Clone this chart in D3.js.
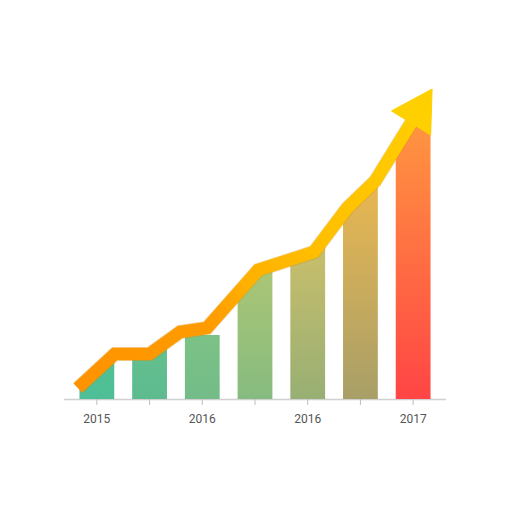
<!DOCTYPE html>
<html>
<head>
<meta charset="utf-8">
<script src="https://cdn.jsdelivr.net/npm/d3@7"></script>
<style>
  html, body { margin: 0; padding: 0; background: #fff; }
  svg { display: block; }
  .tick text { font-family: Roboto, "Open Sans", sans-serif; font-size: 12px; fill: #555; }
</style>
</head>
<body>
<script>
// bars: one per period, tick labels shown on every other bar
const categories = ["p1", "p2", "p3", "p4", "p5", "p6", "p7"];
const tickLabels = ["2015", "", "2016", "", "2016", "", "2017"];
const barValues = [37, 60, 64, 160, 170, 230, 300];
const barTopColors = ["#52c094", "#66c08e", "#7cc286", "#b4c872", "#cec06a", "#edb850", "#ff9c40"];
const barBottomColors = ["#4dbe96", "#5dbb8f", "#73bc88", "#86bb80", "#98af74", "#a89f68", "#ff4545"];

// trend arrow: position along category axis (bar index units) and value
const linePos = [-0.36, 0.34, 1.0, 1.58, 2.09, 3.06, 4.12, 4.75, 5.28, 6.36];
const lineValues = [11, 45, 45, 67, 71, 129, 147, 191, 218, 310];

const width = 512, height = 512;

const svg = d3.select("body").append("svg")
    .attr("width", width)
    .attr("height", height);

const x = d3.scaleBand()
    .domain(categories)
    .range([70.5, 439.5])
    .paddingInner(0.34)
    .paddingOuter(0.17);

const xPos = d3.scaleLinear()
    .domain([0, categories.length - 1])
    .range([x(categories[0]) + x.bandwidth() / 2, x(categories[categories.length - 1]) + x.bandwidth() / 2]);

const y = d3.scaleLinear()
    .domain([0, 320])
    .range([399, 79]);

const linePts = linePos.map((p, i) => [xPos(p), y(lineValues[i])]);

const defs = svg.append("defs");

// bar gradients
categories.forEach((c, i) => {
    const g = defs.append("linearGradient")
        .attr("id", "bar" + i)
        .attr("x1", 0).attr("y1", 0).attr("x2", 0).attr("y2", 1);
    g.append("stop").attr("offset", "0%").attr("stop-color", barTopColors[i]);
    g.append("stop").attr("offset", "100%").attr("stop-color", barBottomColors[i]);
});

// line gradient (orange -> yellow)
const lg = defs.append("linearGradient")
    .attr("id", "lineGrad")
    .attr("gradientUnits", "userSpaceOnUse")
    .attr("x1", linePts[0][0]).attr("y1", linePts[0][1])
    .attr("x2", linePts[linePts.length - 1][0]).attr("y2", linePts[linePts.length - 1][1]);
lg.append("stop").attr("offset", "0%").attr("stop-color", "#ff9200");
lg.append("stop").attr("offset", "32%").attr("stop-color", "#ff9c00");
lg.append("stop").attr("offset", "42%").attr("stop-color", "#ffb000");
lg.append("stop").attr("offset", "60%").attr("stop-color", "#ffbf00");
lg.append("stop").attr("offset", "100%").attr("stop-color", "#ffd000");

// bars are clipped to the area under the trend line
const area = d3.area()
    .x(d => d[0])
    .y0(y(0))
    .y1(d => d[1]);
defs.append("clipPath")
    .attr("id", "underLine")
    .append("path")
    .attr("d", area(linePts));

// axis
svg.append("line")
    .attr("x1", 64).attr("x2", 446)
    .attr("y1", y(0) + 0.5).attr("y2", y(0) + 0.5)
    .attr("stroke", "#d0d0d0")
    .attr("stroke-width", 1.5);

const xAxis = d3.axisBottom(x)
    .tickSize(6)
    .tickPadding(9)
    .tickFormat((d, i) => tickLabels[i]);

const axisG = svg.append("g")
    .attr("transform", `translate(0,${y(0)})`)
    .call(xAxis);
axisG.select(".domain").remove();
axisG.selectAll(".tick line").attr("stroke", "#bdbdbd");

// bars
svg.append("g")
    .attr("clip-path", "url(#underLine)")
    .selectAll("rect")
    .data(barValues)
    .enter()
    .append("rect")
    .attr("x", (d, i) => x(categories[i]))
    .attr("width", x.bandwidth())
    .attr("y", d => y(d))
    .attr("height", d => y(0) - y(d))
    .attr("fill", (d, i) => `url(#bar${i})`);

// arrow shaft, stopped inside the head
const tip = linePts[linePts.length - 1];
const prev = linePts[linePts.length - 2];
const ang = Math.atan2(tip[1] - prev[1], tip[0] - prev[0]);
const headLen = 40, headHalf = 23;
const ux = Math.cos(ang), uy = Math.sin(ang);
const base = [tip[0] - ux * headLen, tip[1] - uy * headLen];
const shaftPts = linePts.slice(0, -1).concat([[base[0] + ux * 6, base[1] + uy * 6]]);

const line = d3.line();

svg.append("path")
    .attr("d", line(shaftPts))
    .attr("fill", "none")
    .attr("stroke", "#c98a00")
    .attr("stroke-opacity", 0.35)
    .attr("stroke-width", 14)
    .attr("stroke-linejoin", "miter");

svg.append("path")
    .attr("d", line(shaftPts))
    .attr("fill", "none")
    .attr("stroke", "url(#lineGrad)")
    .attr("stroke-width", 12.5)
    .attr("stroke-linejoin", "miter");

// arrow head
const head = [
    tip,
    [base[0] - uy * headHalf, base[1] + ux * headHalf],
    [base[0] + uy * headHalf, base[1] - ux * headHalf]
];
svg.append("path")
    .attr("d", line(head) + "Z")
    .attr("fill", "#ffd000")
    .attr("stroke", "#ffd000")
    .attr("stroke-width", 1)
    .attr("stroke-linejoin", "round");
</script>
</body>
</html>
